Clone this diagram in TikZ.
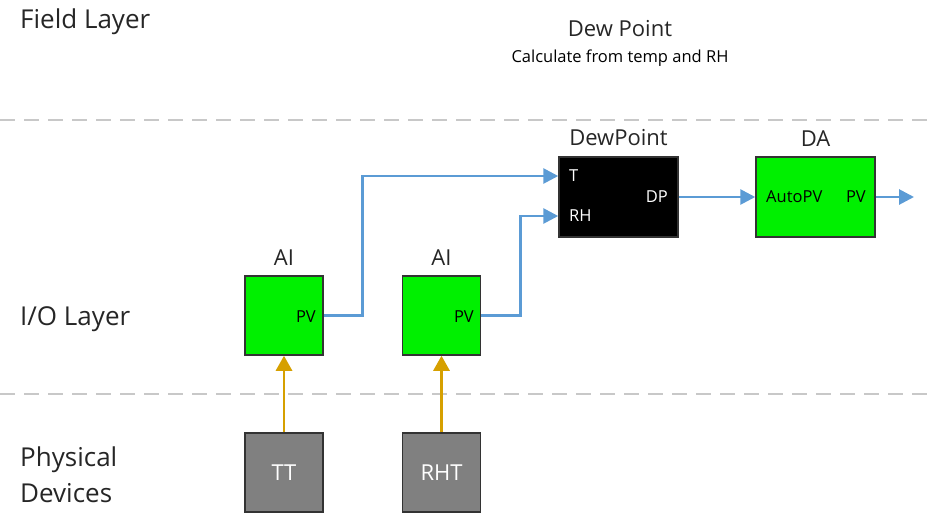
\documentclass[tikz,border=0pt]{standalone}
\usepackage{fontspec}
\setmainfont{Open Sans}
\usetikzlibrary{arrows.meta, positioning}
\definecolor{wireblue}{RGB}{91,155,213}
\definecolor{sigorange}{RGB}{214,160,0}
\definecolor{blkgreen}{RGB}{0,240,0}
\definecolor{devgray}{RGB}{128,128,128}
\definecolor{sepgray}{RGB}{200,200,200}

\begin{document}
\begin{tikzpicture}[
    x=1pt, y=-1pt,
    blk/.style={draw=black!80, line width=1.5pt, minimum width=78pt, minimum height=79pt, inner sep=0pt},
    fb/.style={blk, fill=blkgreen},
    calcblk/.style={blk, fill=black, minimum width=119pt, minimum height=80pt},
    dev/.style={blk, fill=devgray, text=white, font=\fontsize{22}{26}\selectfont},
    title/.style={font=\fontsize{22}{26}\selectfont, text=black!85, inner sep=0pt},
    layer/.style={font=\fontsize{26}{36}\selectfont, text=black!85, align=left, anchor=west, inner sep=0pt},
    port/.style={font=\fontsize{16.5}{18}\selectfont, inner sep=0pt},
    wire/.style={wireblue, line width=2.8pt, -{Triangle[length=15pt,width=15pt]}},
    sig/.style={sigorange, line width=2.8pt, -{Triangle[length=15pt,width=16pt]}},
    sep/.style={sepgray, line width=1.4pt, dash pattern=on 15pt off 9pt}
]
\useasboundingbox (0,0) rectangle (934,512);
\clip (0,0) rectangle (934,512);

% layer separators and names
\draw[sep] (0,120) -- (934,120);
\draw[sep] (0,394) -- (934,394);
\node[layer] (field) at (20,22) {Field Layer};
\node[layer] (iolayer) at (20,319) {I/O Layer};
\node[layer] (phys) at (20,475) {Physical\\Devices};

% field layer
\node[title] (dptitle) at (620,29) {Dew Point};
\node[port, below=12pt of dptitle] (dpnote) {Calculate from temp and RH};

% function blocks
\node[fb] (ai1) at (284,315.5) {};
\node[fb] (ai2) at (441.5,315.5) {};
\node[calcblk] (dewpt) at (618.5,197) {};
\node[fb, minimum width=119pt, minimum height=80pt] (da) at (815.5,197) {};
\node[title, above=10pt of ai1] (ai1lbl) {AI};
\node[title, above=10pt of ai2] (ai2lbl) {AI};
\node[title, above=10pt of dewpt] (dewptlbl) {DewPoint};
\node[title, above=10pt of da] (dalbl) {DA};

% ports
\node[port, anchor=east] (ai1pv) at (316,317) {PV};
\node[port, anchor=east] (ai2pv) at (474,317) {PV};
\node[port, text=white, anchor=west] (tin) at (569,176) {T};
\node[port, text=white, anchor=west] (rhin) at (569,216) {RH};
\node[port, text=white, anchor=east] (dpout) at (668,197) {DP};
\node[port, anchor=west] (autopv) at (766,197) {AutoPV};
\node[port, anchor=east] (dapv) at (866,197) {PV};

% physical devices
\node[dev] (tt) at (284,472.5) {TT};
\node[dev] (rht) at (441.5,472.5) {RHT};

% connections
\coordinate (daout) at (914,197);
\draw[sig] (tt) -- (ai1);
\draw[sig] (rht) -- (ai2);
\draw[wire] (ai1.east) -- ++(39,0) |- (dewpt.west |- tin);
\draw[wire] (ai2.east) -- ++(39,0) |- (dewpt.west |- rhin);
\draw[wire] (dewpt.east) -- (da.west);
\draw[wire] (da.east) -- (daout);

\end{tikzpicture}
\end{document}
